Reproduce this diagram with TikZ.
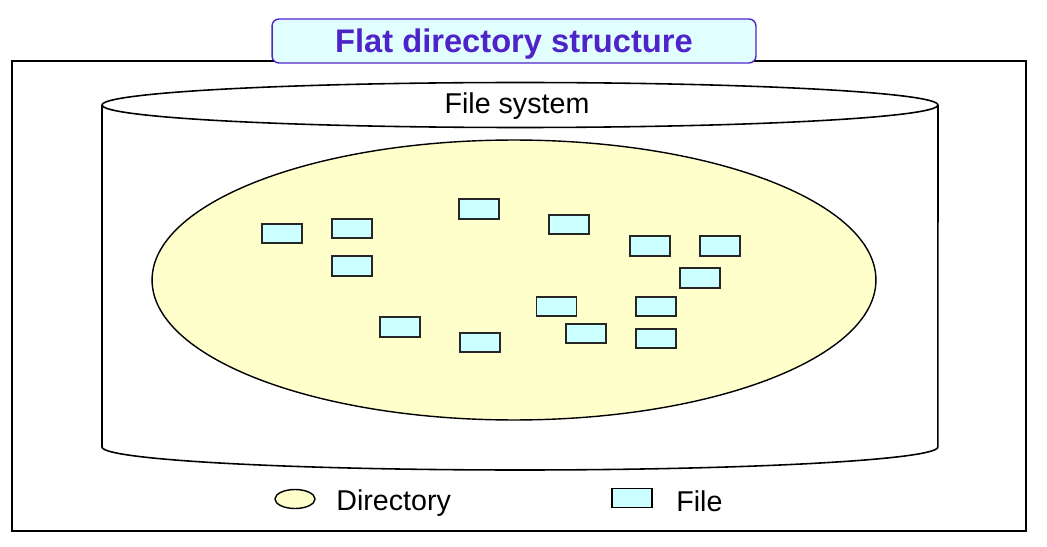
\documentclass[tikz,border=0pt]{standalone}
\usepackage{fontspec}
\setmainfont{Liberation Sans}
\usepackage{xcolor}
\usepackage{tikz}
\usetikzlibrary{positioning,shapes.geometric}

\definecolor{titleblue}{RGB}{78,36,200}
\definecolor{titlefill}{RGB}{226,255,255}
\definecolor{filefill}{RGB}{204,255,255}
\definecolor{dirfill}{RGB}{255,255,204}

\begin{document}
\begin{tikzpicture}[
  x=0.02cm, y=-0.02cm,
  font=\fontsize{16.3}{19}\selectfont,
  titlebox/.style={draw=titleblue, line width=0.8pt, rounded corners=4pt, fill=titlefill, minimum width=9.68cm, minimum height=0.88cm, text depth=0pt, text=titleblue, font=\fontsize{18.6}{22}\selectfont\bfseries},
  directory/.style={draw, ellipse, line width=0.8pt, fill=dirfill, minimum width=14.48cm, minimum height=5.6cm},
  file/.style={draw=black!85, line width=1pt, fill=filefill, minimum width=0.8cm, minimum height=0.39cm, inner sep=0pt},
  legenddir/.style={draw, ellipse, line width=0.8pt, fill=dirfill, minimum width=0.8cm, minimum height=0.38cm, inner sep=0pt},
  legendfile/.style={draw, line width=0.8pt, fill=filefill, minimum width=0.8cm, minimum height=0.38cm, inner sep=0pt},
  label/.style={anchor=west, inner sep=0pt}
]
\useasboundingbox (0,0) rectangle (1047,547);

% frame and file system
\draw[line width=0.9pt] (12,61) rectangle (1026,531);
\draw[line width=0.9pt] (102,105) -- (102,447) arc[start angle=180, end angle=360, x radius=8.36cm, y radius=0.46cm] -- (938,105);
\draw[line width=0.9pt, fill=white] (520,105) ellipse[x radius=8.36cm, y radius=0.45cm];
\node (fs) at (517,106) {File system};

\node[titlebox] (title) at (514,41) {Flat directory structure};

% the one directory
\node[directory] (dir) at (514,280) {};

% files
\node[file] (f1) at (282,233.5) {};
\node[file] (f2) at (352,228.5) {};
\node[file] (f3) at (352,266) {};
\node[file] (f4) at (479,209) {};
\node[file] (f5) at (569,224.5) {};
\node[file] (f6) at (650,246) {};
\node[file] (f7) at (720,246) {};
\node[file] (f8) at (700,278) {};
\node[file] (f9) at (556.5,306.5) {};
\node[file] (f10) at (656,306.5) {};
\node[file] (f11) at (400,327) {};
\node[file] (f12) at (480,342.5) {};
\node[file] (f13) at (586,333.5) {};
\node[file] (f14) at (656,338.5) {};

% legend
\node[legenddir] (keydir) at (295,499) {};
\node[label] (keydirtext) at (336,503) {Directory};
\node[legendfile] (keyfile) at (632,498) {};
\node[label] (keyfiletext) at (676,501) {File};
\end{tikzpicture}
\end{document}
